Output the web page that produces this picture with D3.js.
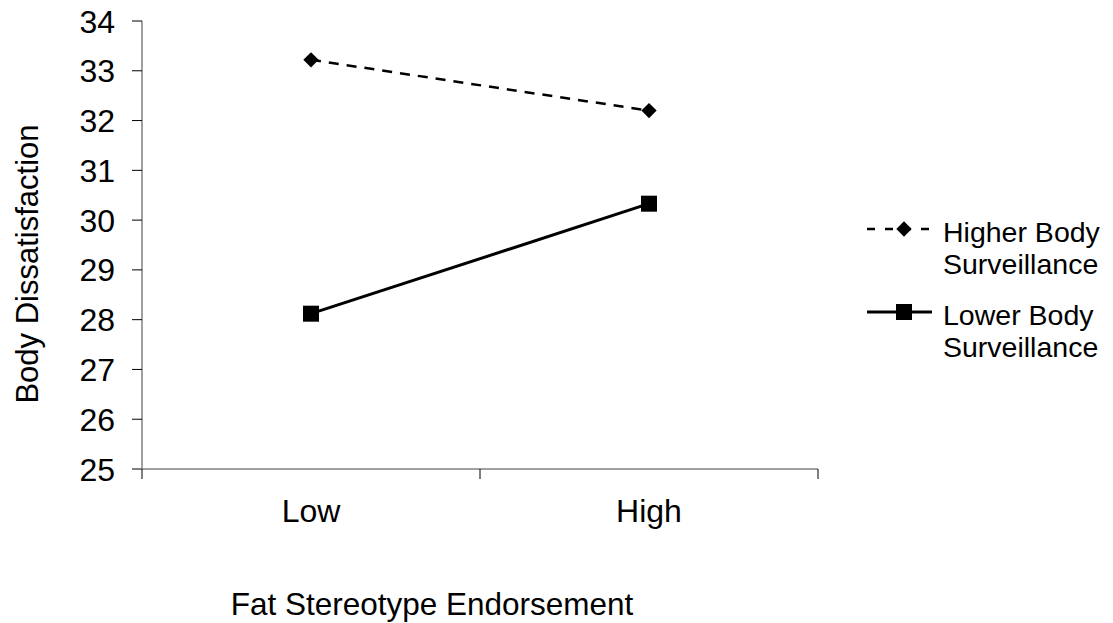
<!DOCTYPE html>
<html>
<head>
<meta charset="utf-8">
<script src="https://cdn.jsdelivr.net/npm/d3@7"></script>
<style>
  html, body { margin: 0; padding: 0; background: #fff; }
  text { font-family: "Liberation Sans", Arial, sans-serif; fill: #000; }
</style>
</head>
<body>
<div id="chart"></div>
<script>
// data
const categories = ["Low", "High"];
const higherSurveillance = [33.22, 32.2];
const lowerSurveillance = [28.12, 30.33];
const yTicks = [25, 26, 27, 28, 29, 30, 31, 32, 33, 34];
const seriesNames = [["Higher Body", "Surveillance"], ["Lower Body", "Surveillance"]];

const width = 1113;
const height = 623;

const svg = d3.select("#chart")
              .append("svg")
              .attr("width", width)
              .attr("height", height);

const plot = { left: 142, right: 818, top: 21, bottom: 469 };

const x = d3.scaleBand()
            .domain(categories)
            .range([plot.left, plot.right]);

const y = d3.scaleLinear()
            .domain([25, 34])
            .range([plot.bottom, plot.top]);

const cx = d => x(d) + x.bandwidth() / 2;

// y axis
const yAxis = svg.append("g");
yAxis.append("line")
     .attr("x1", plot.left).attr("x2", plot.left)
     .attr("y1", y(34)).attr("y2", y(25))
     .style("stroke", "#808080").style("stroke-width", 1.5);

yAxis.selectAll("line.tick")
     .data(yTicks)
     .enter()
     .append("line")
     .attr("class", "tick")
     .attr("x1", plot.left - 10).attr("x2", plot.left)
     .attr("y1", d => y(d)).attr("y2", d => y(d))
     .style("stroke", "#000").style("stroke-width", 1);

yAxis.selectAll("text")
     .data(yTicks)
     .enter()
     .append("text")
     .attr("x", 115)
     .attr("y", d => y(d))
     .attr("dy", "0.36em")
     .attr("text-anchor", "end")
     .style("font-size", "32px")
     .text(d => d);

// x axis
const xAxis = svg.append("g");
xAxis.append("line")
     .attr("x1", plot.left - 10).attr("x2", plot.right)
     .attr("y1", plot.bottom).attr("y2", plot.bottom)
     .style("stroke", "#808080").style("stroke-width", 1.5);

const xTickPos = categories.map(d => x(d)).concat([x(categories[categories.length - 1]) + x.bandwidth()]);
xAxis.selectAll("line.tick")
     .data(xTickPos)
     .enter()
     .append("line")
     .attr("class", "tick")
     .attr("x1", d => d).attr("x2", d => d)
     .attr("y1", plot.bottom).attr("y2", plot.bottom + 10)
     .style("stroke", "#000").style("stroke-width", 1);

xAxis.selectAll("text")
     .data(categories)
     .enter()
     .append("text")
     .attr("x", d => cx(d))
     .attr("y", plot.bottom + 53)
     .attr("text-anchor", "middle")
     .style("font-size", "32px")
     .text(d => d);

// axis titles
svg.append("text")
   .attr("transform", `translate(38, 264) rotate(-90)`)
   .attr("text-anchor", "middle")
   .style("font-size", "31px")
   .text("Body Dissatisfaction");

svg.append("text")
   .attr("x", 432)
   .attr("y", 615)
   .attr("text-anchor", "middle")
   .style("font-size", "31.5px")
   .text("Fat Stereotype Endorsement");

// lines
const line = d3.line()
               .x((d, i) => cx(categories[i]))
               .y(d => y(d));

svg.append("path")
   .datum(higherSurveillance)
   .attr("d", line)
   .style("fill", "none")
   .style("stroke", "#000")
   .style("stroke-width", 2.5)
   .style("stroke-dasharray", "10,8");

svg.append("path")
   .datum(lowerSurveillance)
   .attr("d", line)
   .style("fill", "none")
   .style("stroke", "#000")
   .style("stroke-width", 3);

const diamond = d3.symbol().type(d3.symbolDiamond2).size(150);

svg.selectAll("path.diamond")
   .data(higherSurveillance)
   .enter()
   .append("path")
   .attr("class", "diamond")
   .attr("d", diamond)
   .attr("transform", (d, i) => `translate(${cx(categories[i])},${y(d)})`)
   .style("fill", "#000");

svg.selectAll("rect.square")
   .data(lowerSurveillance)
   .enter()
   .append("rect")
   .attr("class", "square")
   .attr("x", (d, i) => cx(categories[i]) - 8)
   .attr("y", d => y(d) - 8)
   .attr("width", 16)
   .attr("height", 16)
   .style("fill", "#000");

// legend
const legend = svg.append("g");
const legendRows = [
  { y: 229, dash: "8,10", width: 2.5, marker: "diamond" },
  { y: 312, dash: null, width: 3, marker: "square" },
];

legendRows.forEach((r, i) => {
  legend.append("line")
        .attr("x1", 867).attr("x2", 932)
        .attr("y1", r.y).attr("y2", r.y)
        .style("stroke", "#000")
        .style("stroke-width", r.width)
        .style("stroke-dasharray", r.dash);

  if (r.marker === "diamond") {
    legend.append("path")
          .attr("d", diamond)
          .attr("transform", `translate(904,${r.y})`)
          .style("fill", "#000");
  } else {
    legend.append("rect")
          .attr("x", 896).attr("y", r.y - 8)
          .attr("width", 16).attr("height", 16)
          .style("fill", "#000");
  }

  legend.append("text")
        .attr("x", 943)
        .attr("y", r.y + 13)
        .style("font-size", "28.5px")
        .selectAll("tspan")
        .data(seriesNames[i])
        .enter()
        .append("tspan")
        .attr("x", 943)
        .attr("dy", (d, j) => j === 0 ? 0 : 32)
        .text(d => d);
});
</script>
</body>
</html>
